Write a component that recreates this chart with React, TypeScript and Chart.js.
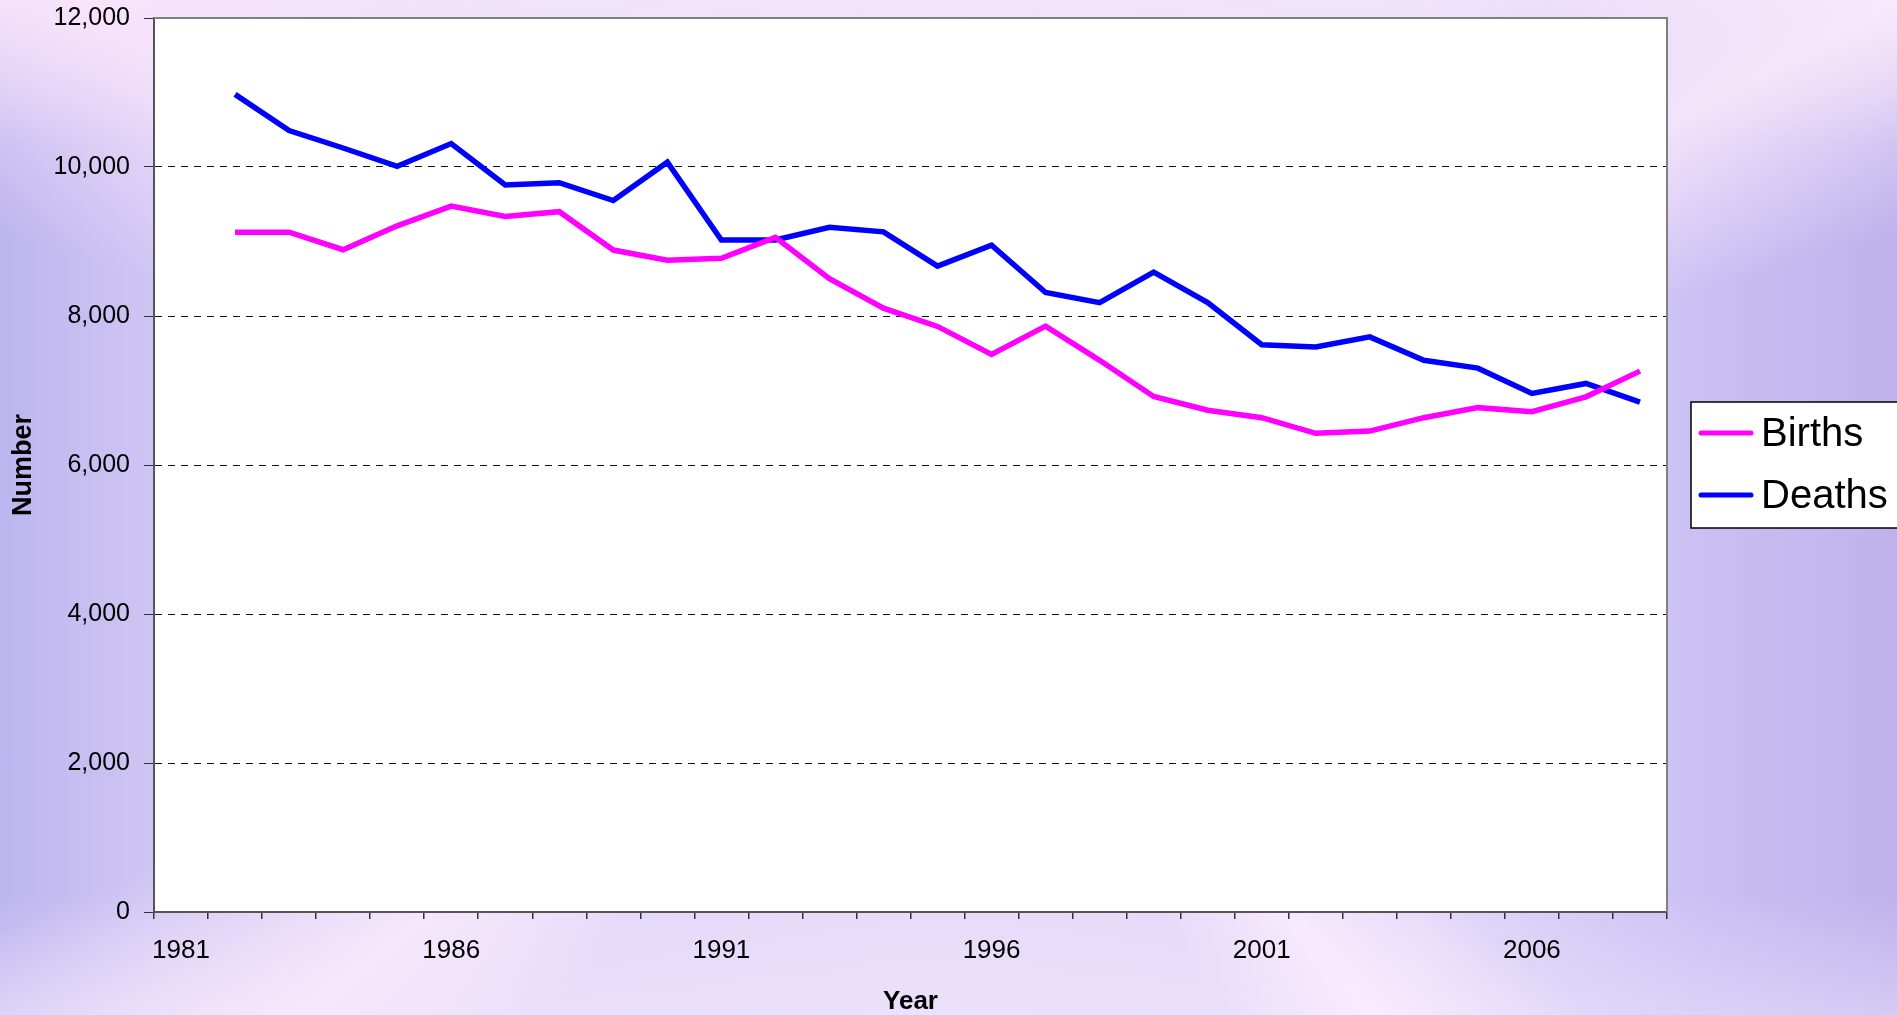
import React, { useEffect, useRef } from "react";
import { Chart, registerables } from "chart.js";

Chart.register(...registerables);

// ---- data ----
const years: string[] = [
  "1981", "1982", "1983", "1984", "1985", "1986", "1987", "1988", "1989", "1990",
  "1991", "1992", "1993", "1994", "1995", "1996", "1997", "1998", "1999", "2000",
  "2001", "2002", "2003", "2004", "2005", "2006", "2007", "2008",
];
const births: (number | null)[] = [
  null, 9125, 9125, 8890, 9210, 9475, 9335, 9400, 8885, 8750,
  8775, 9055, 8500, 8105, 7860, 7485, 7865, 7405, 6920, 6735,
  6635, 6425, 6455, 6635, 6770, 6715, 6915, 7260,
];
const deaths: (number | null)[] = [
  null, 10975, 10490, 10255, 10010, 10315, 9760, 9790, 9550, 10065,
  9020, 9020, 9190, 9130, 8670, 8950, 8315, 8180, 8590, 8180,
  7615, 7585, 7720, 7405, 7300, 6960, 7095, 6845,
];
const labelledYears: string[] = ["1981", "1986", "1991", "1996", "2001", "2006"];
const yMin = 0;
const yMax = 12000;
const yStep = 2000;
const seriesNames: string[] = ["Births", "Deaths"];
const seriesColors: string[] = ["#FF00FF", "#0000FF"];

const FONT = "'Liberation Sans', Arial, sans-serif";

const plotFramePlugin = {
  id: "plotFrame",
  beforeDraw(chart: any) {
    const { ctx, chartArea } = chart;
    ctx.save();
    ctx.fillStyle = "#ffffff";
    ctx.fillRect(chartArea.left, chartArea.top, chartArea.right - chartArea.left, chartArea.bottom - chartArea.top);
    ctx.restore();
  },
  beforeDatasetsDraw(chart: any) {
    const { ctx, chartArea } = chart;
    ctx.save();
    ctx.strokeStyle = "#808080";
    ctx.lineWidth = 2;
    ctx.beginPath();
    ctx.moveTo(chartArea.left, chartArea.top);
    ctx.lineTo(chartArea.right, chartArea.top);
    ctx.lineTo(chartArea.right, chartArea.bottom);
    ctx.stroke();
    ctx.restore();
  },
};

const boxLegendPlugin = {
  id: "boxLegend",
  afterDraw(chart: any) {
    const { ctx, chartArea } = chart;
    const x0 = chartArea.right + 24;
    const y0 = 402;
    const w = chart.width - x0 + 20;
    const h = 126;
    ctx.save();
    ctx.fillStyle = "#ffffff";
    ctx.fillRect(x0, y0, w, h);
    ctx.strokeStyle = "#000000";
    ctx.lineWidth = 1.5;
    ctx.strokeRect(x0, y0, w, h);
    chart.data.datasets.forEach((ds: any, i: number) => {
      const cy = y0 + 31 + i * 62;
      ctx.strokeStyle = ds.borderColor;
      ctx.lineWidth = 5;
      ctx.lineCap = "round";
      ctx.beginPath();
      ctx.moveTo(x0 + 10, cy);
      ctx.lineTo(x0 + 60, cy);
      ctx.stroke();
      ctx.fillStyle = "#000000";
      ctx.font = `40px ${FONT}`;
      ctx.textBaseline = "middle";
      ctx.textAlign = "left";
      ctx.fillText(ds.label, x0 + 70, cy + 2);
    });
    ctx.restore();
  },
};

export default function App() {
  const canvasRef = useRef<HTMLCanvasElement | null>(null);

  useEffect(() => {
    document.body.style.margin = "0";
    const canvas = canvasRef.current;
    if (!canvas) return;
    const chart = new Chart(canvas, {
      type: "line",
      data: {
        labels: years,
        datasets: [
          {
            label: seriesNames[0],
            data: births,
            borderColor: seriesColors[0],
            backgroundColor: seriesColors[0],
            borderWidth: 5.5,
            pointRadius: 0,
            tension: 0,
            spanGaps: false,
          },
          {
            label: seriesNames[1],
            data: deaths,
            borderColor: seriesColors[1],
            backgroundColor: seriesColors[1],
            borderWidth: 5.5,
            pointRadius: 0,
            tension: 0,
            spanGaps: false,
          },
        ],
      },
      options: {
        responsive: false,
        animation: false,
        layout: { padding: { left: 0, top: 18, right: 230, bottom: 0 } },
        plugins: {
          legend: { display: false },
          tooltip: { enabled: false },
        },
        scales: {
          x: {
            type: "category",
            offset: true,
            afterFit(scale: any) {
              scale.height = 103;
              scale.paddingLeft = 0;
              scale.paddingRight = 0;
            },
            grid: {
              offset: true,
              drawOnChartArea: false,
              drawTicks: true,
              tickLength: 7,
              color: "#333333",
              tickColor: "#333333",
              lineWidth: 1.5,
            },
            border: { display: true, color: "#555555", width: 2 },
            ticks: {
              autoSkip: false,
              maxRotation: 0,
              minRotation: 0,
              padding: 16,
              color: "#000000",
              font: { family: FONT, size: 26 },
              callback(this: any, value: any, index: number) {
                const lab = years[index];
                return labelledYears.includes(lab) ? lab : "";
              },
            },
            title: {
              display: true,
              text: "Year",
              color: "#000000",
              font: { family: FONT, size: 26, weight: "bold", lineHeight: 1.0 },
              padding: { top: 0, bottom: 0 },
            },
          },
          y: {
            min: yMin,
            max: yMax,
            afterFit(scale: any) {
              scale.width = 154;
              scale.paddingTop = 0;
              scale.paddingBottom = 0;
            },
            grid: {
              drawTicks: true,
              tickLength: 10,
              color: (c: any) =>
                c.tick && (c.tick.value === yMin || c.tick.value === yMax) ? "rgba(0,0,0,0)" : "#111111",
              tickColor: "#333333",
              lineWidth: 1,
            },
            border: { display: true, color: "#555555", width: 2, dash: [7, 6] },
            ticks: {
              stepSize: yStep,
              padding: 14,
              color: "#000000",
              font: { family: FONT, size: 25 },
            },
            title: {
              display: true,
              text: "Number",
              color: "#000000",
              font: { family: FONT, size: 27, weight: "bold", lineHeight: 1.2 },
              padding: { top: 7, bottom: 0 },
            },
          },
        },
      } as any,
      plugins: [plotFramePlugin, boxLegendPlugin],
    });
    return () => chart.destroy();
  }, []);

  const bg = [
    "conic-gradient(from 0deg at 50% 50%, rgba(255,240,255,0) 0deg, rgba(255,240,255,0) 50deg, rgba(255,238,252,0.75) 62deg, rgba(255,240,255,0) 74deg, rgba(255,240,255,0) 128deg, rgba(255,240,255,0.7) 140deg, rgba(255,240,255,0) 152deg, rgba(255,240,255,0) 218deg, rgba(255,238,252,0.7) 232deg, rgba(255,240,255,0) 246deg, rgba(255,240,255,0) 286deg, rgba(255,232,252,0.7) 300deg, rgba(255,240,255,0) 316deg, rgba(255,240,255,0) 360deg)",
    "linear-gradient(180deg, rgba(246,232,252,0.7) 0%, rgba(246,232,252,0) 14%, rgba(246,232,252,0) 88%, rgba(240,232,252,0.45) 100%)",
    "linear-gradient(90deg, #bdb5ef 0%, #cfc5f4 8%, #e2d7f9 25%, #e6dbf9 50%, #e2d7f9 75%, #cabff3 90%, #bdb2ec 100%)",
  ].join(", ");

  return (
    <div
      style={{
        position: "fixed",
        left: 0,
        top: 0,
        width: 1897,
        height: 1015,
        background: bg,
        overflow: "hidden",
      }}
    >
      <canvas ref={canvasRef} width={1897} height={1015} style={{ display: "block", width: 1897, height: 1015 }} />
    </div>
  );
}
